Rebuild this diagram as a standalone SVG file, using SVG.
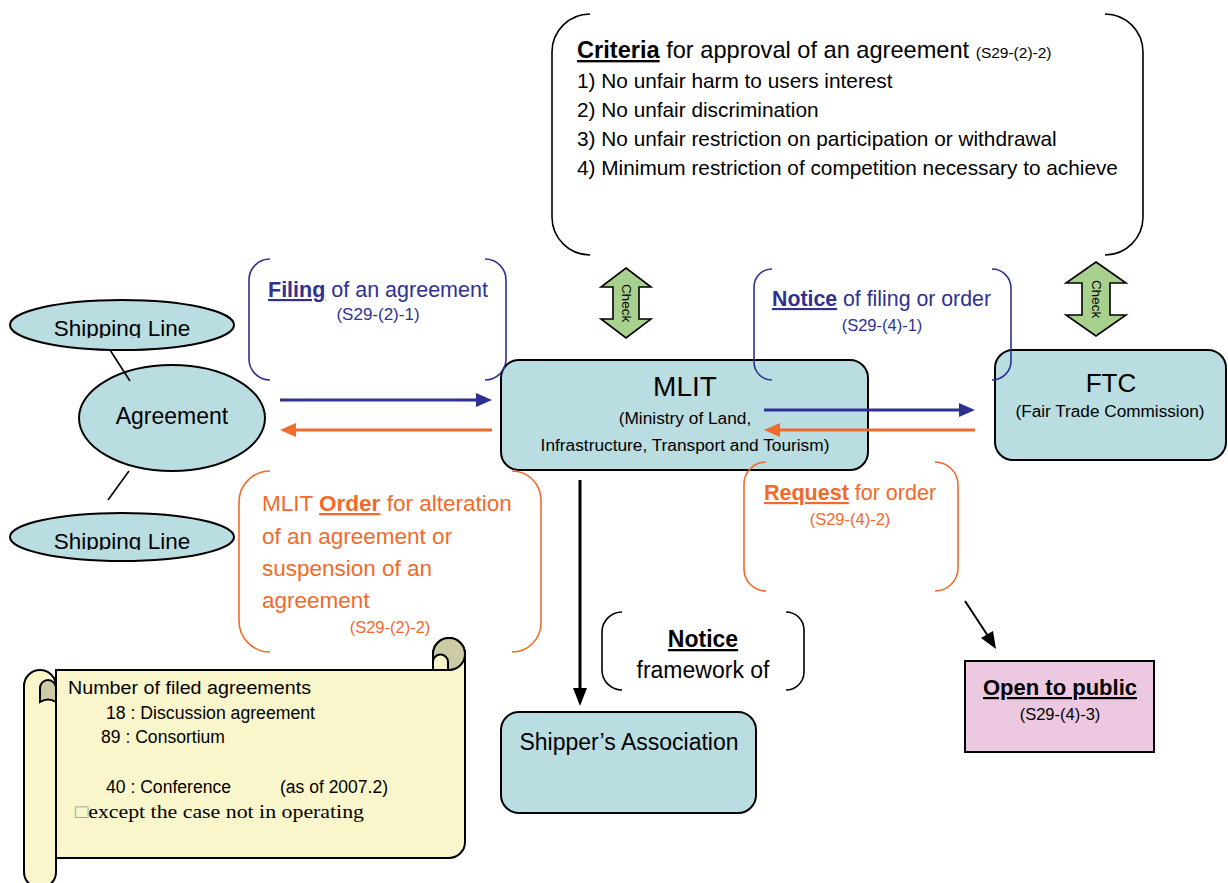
<svg xmlns="http://www.w3.org/2000/svg" width="1228" height="883" viewBox="0 0 1228 883">
<style>
text{font-family:"Liberation Sans",Arial,sans-serif;}
.box{fill:#B9DDE1;stroke:#000;stroke-width:2;}
.blu{fill:#2E3192;}
.org{fill:#F26A2B;}
.brB{fill:none;stroke:#2E3192;stroke-width:1.6;}
.brO{fill:none;stroke:#F26A2B;stroke-width:1.6;}
.brK{fill:none;stroke:#000;stroke-width:1.6;}
.chk{fill:#A9D18E;stroke:#000;stroke-width:1.6;}
.u{text-decoration:underline;font-weight:bold;}
</style>
<defs>
<clipPath id="c1"><rect x="0" y="290" width="260" height="48"/></clipPath>
<clipPath id="c2"><rect x="0" y="500" width="260" height="50"/></clipPath>
</defs>

<g id="criteria">
<path class="brK" d="M590 14 A38 38 0 0 0 552 52 V217 A38 38 0 0 0 590 255"/>
<path class="brK" d="M1105 14 A38 38 0 0 1 1143 52 V217 A38 38 0 0 1 1105 255"/>
<text x="577" y="58" font-size="23.6" fill="#000"><tspan class="u">Criteria</tspan> for approval of an agreement <tspan font-size="15.5">(S29-(2)-2)</tspan></text>
<text x="577" y="88" font-size="20.8">1) No unfair harm to users interest</text>
<text x="577" y="117" font-size="20.8">2) No unfair discrimination</text>
<text x="577" y="146" font-size="20.8">3) No unfair restriction on participation or withdrawal</text>
<text x="577" y="175" font-size="20.8">4) Minimum restriction of competition necessary to achieve</text>
</g>

<g id="check1">
<path class="chk" d="M626 268 L651 287 H639 V319 H651 L626 338 L601 319 H613 V287 H601 Z"/>
<text transform="translate(626,303) rotate(90)" font-size="13.5" text-anchor="middle" dominant-baseline="central">Check</text>
</g>
<g id="check2">
<path class="chk" d="M1096 262 L1126 283 H1110 V315 H1126 L1096 336 L1066 315 H1082 V283 H1066 Z"/>
<text transform="translate(1096,299) rotate(90)" font-size="13.5" text-anchor="middle" dominant-baseline="central">Check</text>
</g>

<g id="shippingLine1">
<ellipse class="box" cx="122" cy="325" rx="112" ry="25"/>
<text x="122" y="336" font-size="22.5" text-anchor="middle" clip-path="url(#c1)">Shipping Line</text>
</g>
<g id="agreement">
<ellipse class="box" cx="172" cy="418" rx="93" ry="53"/>
<text x="172" y="424" font-size="23" text-anchor="middle">Agreement</text>
</g>
<g id="shippingLine2">
<ellipse class="box" cx="122" cy="537" rx="112" ry="24"/>
<text x="122" y="549" font-size="22.5" text-anchor="middle" clip-path="url(#c2)">Shipping Line</text>
</g>

<g id="mlit">
<rect class="box" x="501" y="360" width="367" height="110" rx="18"/>
<text x="685" y="396" font-size="28" text-anchor="middle">MLIT</text>
<text x="685" y="424" font-size="17.3" text-anchor="middle">(Ministry of Land,</text>
<text x="685" y="451" font-size="17.3" text-anchor="middle">Infrastructure, Transport and Tourism)</text>
</g>
<g id="ftc">
<rect class="box" x="995" y="350" width="231" height="110" rx="18"/>
<text x="1111" y="392" font-size="26" text-anchor="middle">FTC</text>
<text x="1110" y="417" font-size="17.2" text-anchor="middle">(Fair Trade Commission)</text>
</g>
<g id="shippers">
<rect class="box" x="501" y="712" width="255" height="101" rx="18"/>
<text x="629" y="750" font-size="23" text-anchor="middle">Shipper’s Association</text>
</g>
<g id="openPublic">
<rect x="965" y="661" width="189" height="91" fill="#EDC9E1" stroke="#000" stroke-width="2"/>
<text x="1060" y="695" font-size="22" text-anchor="middle"><tspan class="u">Open to public</tspan></text>
<text x="1060" y="720" font-size="16.5" text-anchor="middle">(S29-(4)-3)</text>
</g>

<g id="filing">
<path class="brB" d="M270 259 A21 21 0 0 0 249 280 V359 A21 21 0 0 0 270 380"/>
<path class="brB" d="M485 259 A21 21 0 0 1 506 280 V359 A21 21 0 0 1 485 380"/>
<text x="268" y="297" font-size="21.5" class="blu"><tspan class="u">Filing</tspan> of an agreement</text>
<text x="378" y="320" font-size="17" class="blu" text-anchor="middle">(S29-(2)-1)</text>
</g>
<g id="noticeFiling">
<path class="brB" d="M772 269 A18 18 0 0 0 754 287 V362 A18 18 0 0 0 772 380"/>
<path class="brB" d="M992 269 A19 19 0 0 1 1011 288 V361 A19 19 0 0 1 992 380"/>
<text x="772" y="306" font-size="21.3" class="blu"><tspan class="u">Notice</tspan> of filing or order</text>
<text x="882" y="331" font-size="16.5" class="blu" text-anchor="middle">(S29-(4)-1)</text>
</g>
<g id="order">
<path class="brO" d="M270 471 A31 31 0 0 0 239 502 V621 A31 31 0 0 0 270 652"/>
<path class="brO" d="M512 471 A29 29 0 0 1 541 500 V623 A29 29 0 0 1 512 652"/>
<text x="262" y="511" font-size="22.5" class="org">MLIT <tspan class="u">Order</tspan> for alteration</text>
<text x="262" y="544" font-size="22.5" class="org">of an agreement or</text>
<text x="262" y="576" font-size="22.5" class="org">suspension of an</text>
<text x="262" y="608" font-size="22.5" class="org">agreement</text>
<text x="390" y="633" font-size="16.5" class="org" text-anchor="middle">(S29-(2)-2)</text>
</g>
<g id="request">
<path class="brO" d="M766 462 A22 22 0 0 0 744 484 V569 A22 22 0 0 0 766 591"/>
<path class="brO" d="M935 462 A23 23 0 0 1 958 485 V568 A23 23 0 0 1 935 591"/>
<text x="764" y="500" font-size="21.5" class="org"><tspan class="u">Request</tspan> for order</text>
<text x="850" y="525" font-size="16.5" class="org" text-anchor="middle">(S29-(4)-2)</text>
</g>
<g id="noticeFramework">
<path class="brK" d="M622 612 A20 20 0 0 0 602 632 V670 A20 20 0 0 0 622 690"/>
<path class="brK" d="M786 612 A18 18 0 0 1 804 630 V672 A18 18 0 0 1 786 690"/>
<text x="703" y="647" font-size="23" text-anchor="middle"><tspan class="u">Notice</tspan></text>
<text x="703" y="678" font-size="23" text-anchor="middle">framework of</text>
</g>

<g id="scroll">
<path d="M56 670 H433 V654 A16 16 0 0 1 465 654 V842 A16 16 0 0 1 449 858 H56 Z" fill="#FAF6CC" stroke="#000" stroke-width="2"/>
<circle cx="449" cy="654" r="16" fill="#CDCBA6" stroke="#000" stroke-width="2"/>
<path d="M433 670 V662 A7.5 7.5 0 0 1 448 662 V670 Z" fill="#FAF6CC" stroke="#000" stroke-width="2"/>
<path d="M24 686 A16 16 0 0 1 56 686 V872 A16 16 0 0 1 24 872 Z" fill="#FAF6CC" stroke="#000" stroke-width="2"/>
<path d="M40 702 V688 A8 8 0 0 1 56 688 V702 Q48 697 40 702 Z" fill="#CDCBA6" stroke="#000" stroke-width="2"/>
<text x="68" y="694" font-size="18" textLength="243" lengthAdjust="spacingAndGlyphs">Number of filed agreements</text>
<text x="106" y="719" font-size="18" textLength="209" lengthAdjust="spacingAndGlyphs">18 : Discussion agreement</text>
<text x="101" y="743" font-size="18" textLength="124" lengthAdjust="spacingAndGlyphs">89 : Consortium</text>
<text x="106" y="793" font-size="18" textLength="125" lengthAdjust="spacingAndGlyphs">40 : Conference</text>
<text x="280" y="793" font-size="18" textLength="108" lengthAdjust="spacingAndGlyphs">(as of 2007.2)</text>
<text x="75" y="818" font-size="19" style="font-family:'Liberation Serif','Times New Roman',serif" textLength="289" lengthAdjust="spacingAndGlyphs"><tspan fill="#999">□</tspan>except the  case not in operating</text>
</g>

<g id="connectors">
<line x1="110" y1="350" x2="130" y2="381" stroke="#000" stroke-width="1.6"/>
<line x1="129" y1="471" x2="108" y2="500" stroke="#000" stroke-width="1.6"/>
<line x1="280" y1="400" x2="478" y2="400" stroke="#2E3192" stroke-width="3"/>
<polygon points="476,393 492,400 476,407" fill="#2E3192"/>
<line x1="492" y1="430" x2="294" y2="430" stroke="#F26A2B" stroke-width="3"/>
<polygon points="296,423 280,430 296,437" fill="#F26A2B"/>
<line x1="764" y1="410" x2="961" y2="410" stroke="#2E3192" stroke-width="3"/>
<polygon points="959,403 975,410 959,417" fill="#2E3192"/>
<line x1="975" y1="430" x2="778" y2="430" stroke="#F26A2B" stroke-width="3"/>
<polygon points="780,423 764,430 780,437" fill="#F26A2B"/>
<line x1="580" y1="480" x2="580" y2="690" stroke="#000" stroke-width="3"/>
<polygon points="573,688 580,706 587,688" fill="#000"/>
<line x1="965" y1="601" x2="988" y2="636" stroke="#000" stroke-width="2"/>
<polygon points="981,638 996,649 993,631" fill="#000"/>
</g>
</svg>
